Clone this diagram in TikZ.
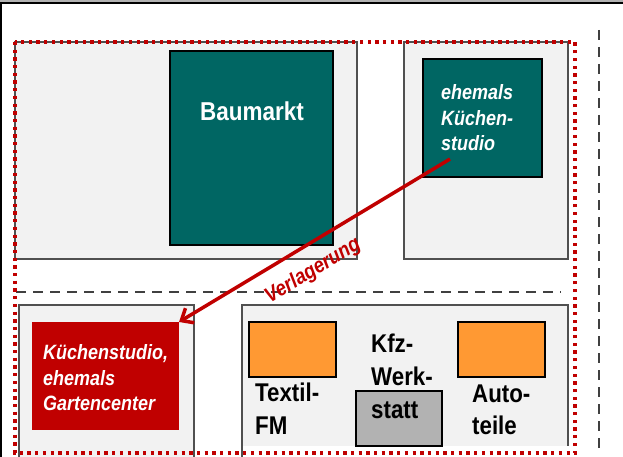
\documentclass[tikz,border=0pt]{standalone}
\usepackage{fontspec}
\usepackage{graphicx}
\setmainfont{Liberation Sans}
\usetikzlibrary{arrows.meta}
\definecolor{teal}{RGB}{0,102,99}
\definecolor{dred}{RGB}{192,0,0}
\definecolor{lgray}{RGB}{242,242,242}
\definecolor{bgray}{RGB}{80,80,80}
\definecolor{dashgray}{RGB}{64,64,64}
\definecolor{orng}{RGB}{255,153,51}
\definecolor{mgray}{RGB}{178,178,178}
\newcommand{\vst}[1]{\scalebox{1}[1.15]{#1}}
\tikzset{
  block/.style={fill=lgray, draw=bgray, line width=2pt},
  boxn/.style={anchor=north west, inner sep=0pt, outer sep=0pt, draw=black, line width=2.3pt},
  wtxt/.style={text=white, font=\fontsize{18}{22}\selectfont\bfseries\itshape, anchor=base west, inner sep=0pt},
  btxt/.style={text=black, font=\fontsize{22.3}{27}\selectfont\bfseries, anchor=base west, inner sep=0pt},
  road/.style={draw=dashgray, line width=2.6pt, dash pattern=on 10pt off 7pt},
  area/.style={draw=dred, line width=3.3pt, dash pattern=on 3.3pt off 4.4pt},
  move/.style={draw=dred, line width=3.5pt, -{Straight Barb[length=10pt,width=17pt]}}
}
\begin{document}
\begin{tikzpicture}[x=1pt,y=-1pt]
\useasboundingbox (0,0) rectangle (623,457);
\clip (0,0) rectangle (623,457);
% frame
\fill[gray!60] (0,0) rectangle (623,2);
\draw[black, line width=1.8pt] (0.9,457) -- (0.9,3.2) -- (623,3.2);
% background blocks
\draw[block] (15,42) rectangle (357,259);
\draw[block] (404,42) rectangle (568,259);
\draw[block] (19,305) rectangle (194,475);
\fill[lgray] (242,305) rectangle (568,446);
\draw[draw=bgray, line width=2pt] (242,475) -- (242,305) -- (568,305) -- (568,446);
% roads
\draw[road] (16,292) -- (561,292);
\draw[road] (599,30) -- (599,455);
% buildings
\node[boxn, fill=teal, minimum width=163pt, minimum height=194pt] (baumarkt) at (170,51) {};
\node[boxn, fill=teal, minimum width=119pt, minimum height=118pt] (alt) at (423,59) {};
\node[boxn, fill=dred, draw=none, minimum width=147pt, minimum height=108pt] (kueche) at (32,322) {};
\node[boxn, fill=orng, minimum width=87pt, minimum height=55pt] (textilbox) at (249,322) {};
\node[boxn, fill=orng, minimum width=87pt, minimum height=55pt] (autobox) at (458,322) {};
\node[boxn, fill=mgray, minimum width=86pt, minimum height=55pt] (kfzbox) at (356,391) {};
% texts
\node[text=white, font=\fontsize{22.5}{27}\selectfont\bfseries, anchor=base, inner sep=0pt] (tbau) at (252,121) {\vst{Baumarkt}};
\node[wtxt] (ta1) at (441,100) {\vst{ehemals}};
\node[wtxt] (ta2) at (441,126) {\vst{Küchen-}};
\node[wtxt] (ta3) at (441,151) {\vst{studio}};
\node[wtxt] (tk1) at (43,359) {\vst{Küchenstudio,}};
\node[wtxt] (tk2) at (43,385) {\vst{ehemals}};
\node[wtxt] (tk3) at (43,410) {\vst{Gartencenter}};
\node[btxt] (tt1) at (255,401) {\vst{Textil-}};
\node[btxt] (tt2) at (255,434) {\vst{FM}};
\node[btxt] (tf1) at (371,352) {\vst{Kfz-}};
\node[btxt] (tf2) at (371,385) {\vst{Werk-}};
\node[btxt] (tf3) at (371,418) {\vst{statt}};
\node[btxt] (tu1) at (472,402) {\vst{Auto-}};
\node[btxt] (tu2) at (472,434) {\vst{teile}};
% relocation
\coordinate (arrstart) at (450,159);
\draw[move] (arrstart) -- (kueche.north east);
\node[text=dred, font=\fontsize{18.5}{22}\selectfont\bfseries\itshape, rotate=31, inner sep=0pt] (lbl) at (313,271) {\vst{Verlagerung}};
% area boundary
\draw[area] (15,42) rectangle (575,453);
\end{tikzpicture}
\end{document}
